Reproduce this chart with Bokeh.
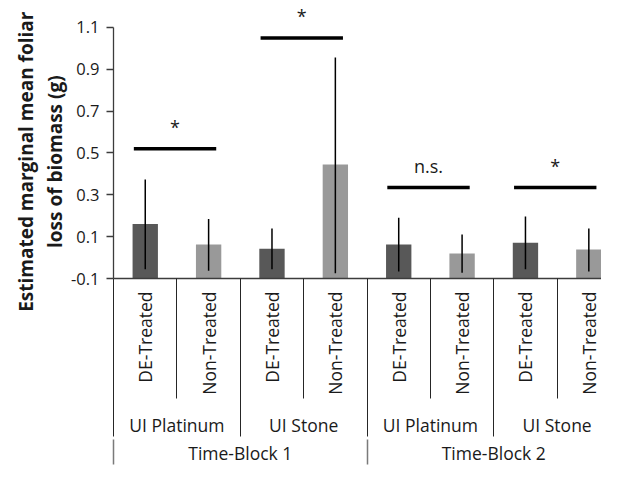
import math
from bokeh.plotting import figure
from bokeh.models import (LinearAxis, FixedTicker, Range1d, ColumnDataSource,
                          PrintfTickFormatter)
from bokeh.core.properties import value
from bokeh.embed import file_html
from bokeh.resources import INLINE

# ---- data ----
time_blocks = ["Time-Block 1", "Time-Block 2"]
cultivars = ["UI Platinum", "UI Stone", "UI Platinum", "UI Stone"]
treatments = ["DE-Treated", "Non-Treated"] * 4
means = [0.16, 0.063, 0.042, 0.445, 0.063, 0.02, 0.071, 0.039]
err_upper = [0.373, 0.185, 0.139, 0.957, 0.19, 0.11, 0.196, 0.139]
err_lower = [-0.056, -0.063, -0.056, -0.075, -0.067, -0.073, -0.056, -0.067]
sig_heights = [0.52, 1.05, 0.335, 0.335]
sig_labels = ["*", "*", "n.s.", "*"]
y_ticks = [-0.1, 0.1, 0.3, 0.5, 0.7, 0.9, 1.1]
y_title = ["Estimated marginal mean foliar", "loss of biomass (g)"]

FONT = "Open Sans"
DARK = "#585858"
LIGHT = "#999999"
AXIS_COL = "#3c3c3c"
SEP_COL = "#262626"
TB_SEP_COL = "#7a7a7a"
TXT = "#1a1a1a"
LBL_SIZE = "17.5px"

n = len(means)
xpos = [i + 0.5 for i in range(n)]
colors = [DARK if t == "DE-Treated" else LIGHT for t in treatments]

p = figure(frame_width=488, frame_height=278, output_backend="svg",
           toolbar_location=None, title=None,
           x_range=Range1d(-0.001, 7.7), y_range=Range1d(-0.1, 1.229),
           min_border_left=113, min_border_right=0, min_border_top=0,
           min_border_bottom=0, x_axis_type=None, y_axis_type=None)
p.outline_line_color = None
p.xgrid.visible = False
p.ygrid.visible = False
p.background_fill_color = "white"

# bars
src = ColumnDataSource(dict(x=xpos, top=means, color=colors,
                            lo=err_lower, hi=err_upper))
p.vbar(x="x", top="top", bottom=-0.1, width=0.4, fill_color="color",
       line_color=None, source=src)
# error bars
p.segment(x0="x", y0="lo", x1="x", y1="hi", line_color="black",
          line_width=1.5, source=src)

# significance bars
g = list(range(len(sig_heights)))
sig_src = ColumnDataSource(dict(
    x0=[2 * k + 0.32 for k in g], x1=[2 * k + 1.62 for k in g],
    xc=[2 * k + 0.97 for k in g], y=sig_heights, lab=sig_labels))
p.segment(x0="x0", y0="y", x1="x1", y1="y", line_color="black",
          line_width=3.5, source=sig_src)
p.text(x="xc", y="y", text="lab", source=sig_src, text_align="center",
       text_baseline="alphabetic", y_offset=-22,
       text_font=value(FONT), text_font_size="18px", text_color=TXT)

# y axis
yax = LinearAxis(ticker=FixedTicker(ticks=y_ticks, minor_ticks=[]),
                 formatter=PrintfTickFormatter(format="%.1f"),
                 bounds=(-0.1, 1.1))
yax.axis_line_color = AXIS_COL
yax.axis_line_width = 1.3
yax.major_tick_line_color = AXIS_COL
yax.major_tick_line_width = 1.3
yax.major_tick_out = 7
yax.major_tick_in = 0
yax.minor_tick_out = 0
yax.major_label_standoff = 7
yax.major_label_text_font = FONT
yax.major_label_text_font_size = "16.5px"
yax.major_label_text_color = TXT
# trailing no-break spaces nudge the centred title a little lower
pad = "\u00a0" * 9
yax.axis_label = "\n".join(line + pad for line in y_title)
yax.axis_label_text_font = FONT
yax.axis_label_text_font_style = "bold"
yax.axis_label_text_font_size = "19px"
yax.axis_label_text_line_height = 1.1
yax.axis_label_text_color = TXT
yax.axis_label_standoff = 0
p.add_layout(yax, "left")


def cat_axis(ticks, labels, seps, sep_len, label_gap, orientation=None,
             line=False, sep_color=SEP_COL, sep_width=1):
    ax = LinearAxis(ticker=FixedTicker(ticks=ticks, minor_ticks=seps),
                    major_label_overrides={x: t for x, t in zip(ticks, labels)})
    ax.axis_line_color = AXIS_COL if line else None
    ax.axis_line_width = 1.3
    ax.major_tick_line_color = None
    ax.major_tick_out = 0
    ax.major_tick_in = 0
    ax.minor_tick_line_color = sep_color
    ax.minor_tick_line_width = sep_width
    ax.minor_tick_out = sep_len
    ax.minor_tick_in = 0
    if orientation is not None:
        ax.major_label_orientation = orientation
    # label gap measured from the axis line, not from the separator end
    ax.major_label_standoff = label_gap - sep_len
    ax.major_label_text_font = FONT
    ax.major_label_text_font_size = LBL_SIZE
    ax.major_label_text_color = TXT
    return ax


# x axis level 1: treatments
ax1 = cat_axis(xpos, treatments, list(range(n + 1)), 120, 13,
               orientation=math.pi / 2, line=True)
p.add_layout(ax1, "below")

# x axis level 2: cultivars
cult_x = [2 * k + 1 for k in range(len(cultivars))]
ax2 = cat_axis(cult_x, cultivars, list(range(0, n + 1, 2)), 39, 15)
p.add_layout(ax2, "below")

# x axis level 3: time blocks
tb_x = [4 * k + 2 for k in range(len(time_blocks))]
ax3 = cat_axis(tb_x, time_blocks, list(range(0, n + 1, 4)), 25, 1,
               sep_color=TB_SEP_COL, sep_width=1.5)
p.add_layout(ax3, "below")

open("out.html", "w").write(file_html(p, INLINE))
